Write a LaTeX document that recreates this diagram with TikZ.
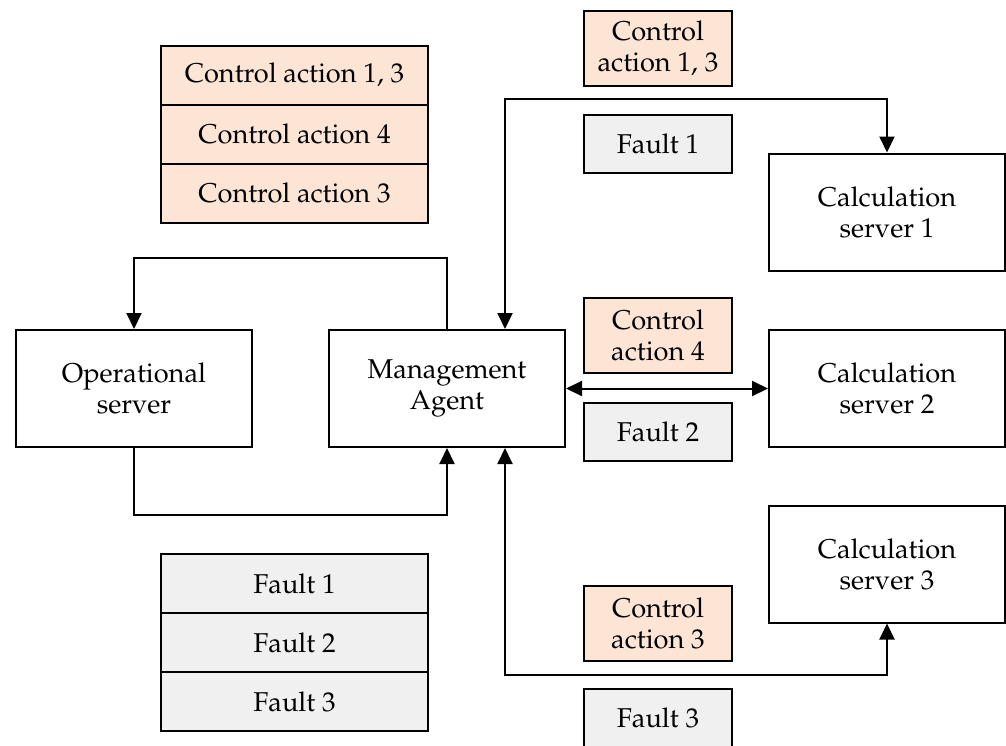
\documentclass[tikz,border=0pt]{standalone}
\usepackage[T1]{fontenc}
\usepackage{mathpazo}
\usetikzlibrary{arrows.meta}
\definecolor{capeach}{HTML}{FDE5D6}
\definecolor{fltgrey}{HTML}{F0F0F0}
\tikzset{
  every node/.style={font=\fontsize{13.6}{15.5}\selectfont},
  box/.style={draw=black,line width=1pt,fill=white,align=center,inner sep=0pt,minimum width=118pt,minimum height=58.5pt},
  rowca/.style={draw=black,line width=1pt,fill=capeach,align=center,inner sep=0pt,minimum width=133.5pt,minimum height=29.5pt},
  rowflt/.style={draw=black,line width=1pt,fill=fltgrey,align=center,inner sep=0pt,minimum width=133.5pt,minimum height=29.5pt},
  lblca/.style={draw=black,line width=1pt,fill=capeach,align=center,inner sep=0pt,minimum width=74pt,minimum height=37.5pt},
  lblflt/.style={draw=black,line width=1pt,fill=fltgrey,align=center,inner sep=0pt,minimum width=74pt,minimum height=29pt},
  arr/.style={line width=1pt,-{Triangle[length=8pt,width=7.5pt]}},
  arrtwo/.style={line width=1pt,{Triangle[length=8pt,width=7.5pt]}-{Triangle[length=8pt,width=7.5pt]}}
}
\begin{document}
\begin{tikzpicture}[x=0.5pt,y=-0.5pt]
\useasboundingbox (0,0) rectangle (1006,745);
\clip (0,0) rectangle (1006,745);
% left tables
\node[rowca] (t1) at (294.5,75) {Control action 1, 3};
\node[rowca] (t2) at (294.5,134) {Control action 4};
\node[rowca] (t3) at (294.5,193) {Control action 3};
\node[rowflt] (g1) at (294.5,583.5) {Fault 1};
\node[rowflt] (g2) at (294.5,642.5) {Fault 2};
\node[rowflt] (g3) at (294.5,701.5) {Fault 3};
% main boxes
\node[box] (op) at (134,388.5) {Operational\\server};
\node[box] (ma) at (447,388.5) {Management\\Agent};
\node[box] (c1) at (887,212) {Calculation\\server 1};
\node[box] (c2) at (887,388.5) {Calculation\\server 2};
\node[box] (c3) at (887,564) {Calculation\\server 3};
% labels
\node[lblca] (l13) at (658,48.5) {Control\\action 1, 3};
\node[lblflt] (f1) at (658,144) {Fault 1};
\node[lblca] (l4) at (658,335.5) {Control\\action 4};
\node[lblflt] (f2) at (658,432) {Fault 2};
\node[lblca] (l3) at (658,623) {Control\\action 3};
\node[lblflt] (f3) at (658,718) {Fault 3};
% connectors
\coordinate (mat) at ([xshift=29pt]ma.north);
\coordinate (mab) at ([xshift=29pt]ma.south);
\draw[arr] (ma.north) -- ++(0,-71) -| (op.north);
\draw[arr] (op.south) -- ++(0,67) -| (ma.south);
\draw[arrtwo] (mat) -- (mat |- 0,99) -| (c1.north);
\draw[arrtwo] (ma.east) -- (c2.west);
\draw[arrtwo] (mab) -- (mab |- 0,675) -| (c3.south);
\end{tikzpicture}
\end{document}
